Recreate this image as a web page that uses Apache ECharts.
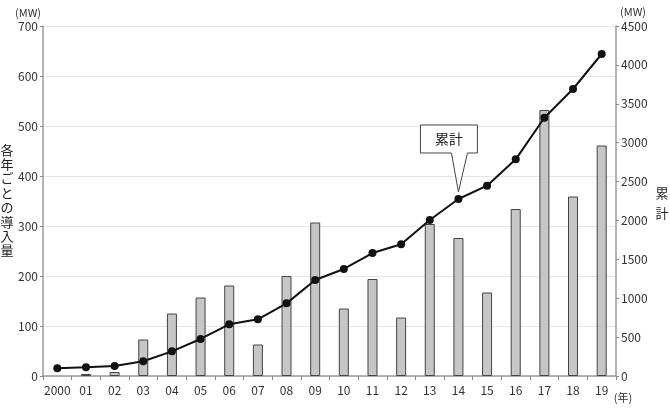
<!DOCTYPE html>
<html><head><meta charset="utf-8">
<script src="https://cdn.jsdelivr.net/npm/echarts@6/dist/echarts.min.js"></script>
<style>html,body{margin:0;padding:0;background:#fff}#c{width:670px;height:412px}</style>
</head><body><div id="c"></div>
<script>
const categories = ['2000','01','02','03','04','05','06','07','08','09','10','11','12','13','14','15','16','17','18','19'];
const annual = [0,4,8,73,125,157,181,63,200,307,135,194,117,304,276,167,334,532,359,461];
const cumulative = [99,112,129,189,317,476,664,729,934,1234,1376,1581,1693,2006,2276,2447,2786,3321,3690,4140];
const leftTicks = {min:0, max:700, interval:100};
const rightTicks = {min:0, max:4500, interval:500};
const calloutIndex = 14;
const FONT = '"Noto Sans CJK JP", "Noto Sans", sans-serif';

const chart = echarts.init(document.getElementById('c'));
const axisLine = {show:true, lineStyle:{color:'#9a9a9a', width:1.5}};
chart.setOption({
  animation:false,
  grid:{left:43, right:54, top:26, bottom:36},
  xAxis:{type:'category', data:categories, boundaryGap:true,
    axisLine:axisLine, axisTick:{show:true, length:4, interval:0, lineStyle:{color:'#8a8a8a'}},
    axisLabel:{color:'#333', fontSize:12, fontFamily:FONT, margin:8, interval:0}},
  yAxis:[
    {type:'value', min:leftTicks.min, max:leftTicks.max, interval:leftTicks.interval,
     axisLine:axisLine, axisTick:{show:true, length:3, lineStyle:{color:'#8a8a8a'}},
     splitLine:{lineStyle:{color:'#e6e6e6', width:1}},
     axisLabel:{color:'#333', fontSize:12, fontFamily:FONT, margin:5}},
    {type:'value', min:rightTicks.min, max:rightTicks.max, interval:rightTicks.interval, position:'right',
     axisLine:axisLine, axisTick:{show:true, length:3, lineStyle:{color:'#8a8a8a'}},
     splitLine:{show:false},
     axisLabel:{color:'#333', fontSize:12, fontFamily:FONT, margin:5, formatter:v => String(v)}}
  ],
  series:[
    {type:'bar', data:annual.map(v => v === 0 ? null : v), yAxisIndex:0, barWidth:10,
     itemStyle:{color:'#c6c6c6', borderColor:'#444', borderWidth:1}},
    {type:'line', data:cumulative, yAxisIndex:1, symbol:'circle', symbolSize:8,
     lineStyle:{color:'#111', width:2}, itemStyle:{color:'#111'}}
  ]
});

const p = chart.convertToPixel({xAxisIndex:0, yAxisIndex:1}, [calloutIndex, cumulative[calloutIndex]]);
const tipX = p[0], tipY = p[1] - 7;
const bx0 = tipX - 38, bx1 = tipX + 19, by0 = tipY - 67, by1 = tipY - 39;
chart.setOption({
  graphic:[
    {type:'polygon', shape:{points:[[bx0,by0],[bx1,by0],[bx1,by1],[tipX+9,by1],[tipX,tipY],[tipX-7,by1],[bx0,by1]]},
     style:{fill:'#fff', stroke:'#444', lineWidth:1}, z:100},
    {type:'text', x:(bx0+bx1)/2, y:(by0+by1)/2, z:101,
     style:{text:'累計', fill:'#222', font:'14px '+FONT, align:'center', verticalAlign:'middle'}},
    {type:'text', x:28, y:13, style:{text:'(MW)', fill:'#333', font:'11px '+FONT, align:'center', verticalAlign:'middle'}},
    {type:'text', x:633, y:12, style:{text:'(MW)', fill:'#333', font:'11px '+FONT, align:'center', verticalAlign:'middle'}},
    {type:'text', x:623, y:398, style:{text:'(年)', fill:'#333', font:'11px '+FONT, align:'center', verticalAlign:'middle'}},
    {type:'text', x:7, y:200, style:{text:'各\n年\nご\nと\nの\n導\n入\n量', fill:'#222', font:'13px '+FONT, lineHeight:14.4, align:'center', verticalAlign:'middle'}},
    {type:'text', x:662, y:203, style:{text:'累\n計', fill:'#222', font:'13px '+FONT, lineHeight:19.5, align:'center', verticalAlign:'middle'}}
  ]
});
</script></body></html>
